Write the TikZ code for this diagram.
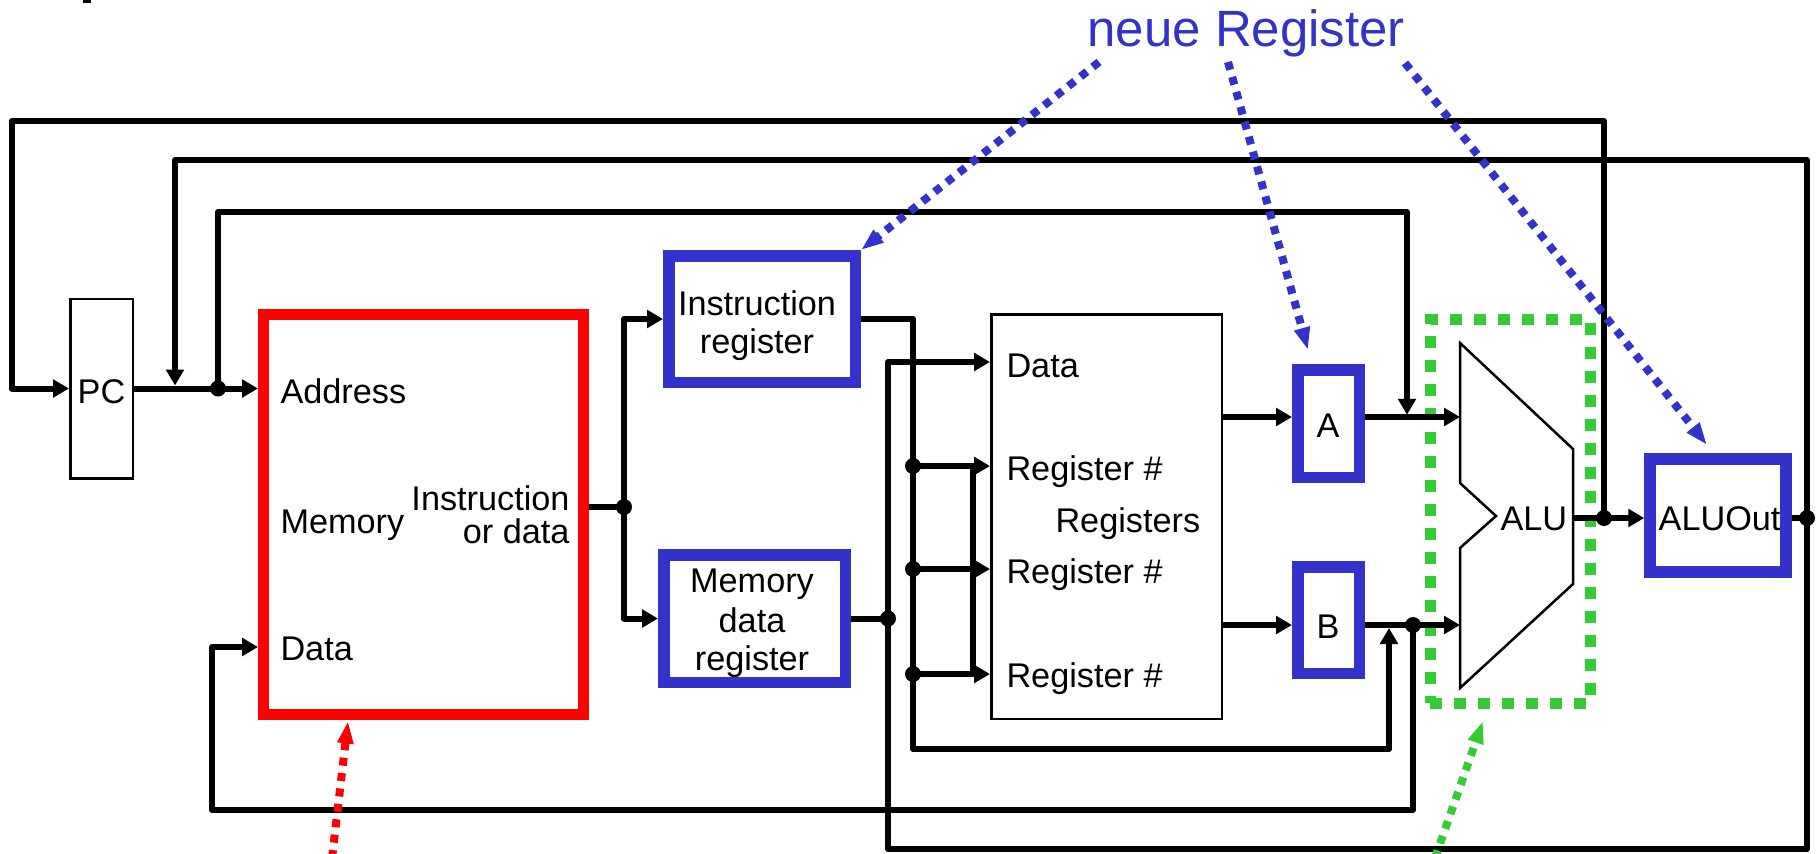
\documentclass[tikz,border=0pt]{standalone}
\usepackage{fontspec}
\setmainfont{Liberation Sans}
\usetikzlibrary{arrows.meta,fit}
\definecolor{regblue}{RGB}{51,51,204}
\definecolor{memred}{RGB}{255,0,0}
\definecolor{alugreen}{RGB}{51,204,51}

\begin{document}
\begin{tikzpicture}[x=0.4pt,y=-0.4pt,
  wire/.style={line width=2.4pt, line join=round},
  arr/.style={-{Triangle[length=6.4pt,width=7pt]}},
  jdot/.style={circle, fill, inner sep=0pt, minimum size=6.4pt},
  thinbox/.style={draw, line width=1pt, inner sep=0pt},
  regbox/.style={draw=regblue, line width=4.6pt, inner sep=0pt},
  membox/.style={draw=memred, line width=4.4pt, inner sep=0pt},
  groupbox/.style={draw=alugreen, line width=4.4pt, inner sep=0pt, dash pattern=on 4.8pt off 4.8pt},
  lbl/.style={font=\fontsize{13.7}{16}\selectfont, inner sep=0pt},
  hint/.style={line width=3.2pt, dash pattern=on 3.2pt off 3pt,
    -{Triangle[length=9pt,width=6pt]}},
]
\useasboundingbox (0,0) rectangle (1818,853);

% small mark at the top edge
\fill (83,0) rectangle (91,2.5);

% ---------- boxes ----------
\node[thinbox, fit={(70.25,298.75)(132.75,478.25)}] (pc) {};
\node[membox, fit={(263.5,314.5)(583.5,714.5)}] (mem) {};
\node[regbox, fit={(668.75,255.75)(855.25,382.25)}] (ir) {};
\node[regbox, fit={(663.75,554.75)(845.25,682.25)}] (mdr) {};
\node[thinbox, fit={(991.25,314.25)(1221.75,718.75)}] (regs) {};
\node[regbox, fit={(1297.75,369.75)(1359.25,477.25)}] (A) {};
\node[regbox, fit={(1297.75,566.75)(1359.25,673.25)}] (B) {};
\node[regbox, fit={(1650,459)(1786,572)}] (aluout) {};
\node[groupbox, fit={(1430,319.5)(1590,703)}] (alugroup) {};

% ALU outline
\draw[line width=1pt, line join=miter]
  (1460,343) -- (1573,449) -- (1573,584) -- (1460,688) -- (1460,548)
  -- (1496,516) -- (1460,483) -- cycle;
\coordinate (aluA) at (1460,417);
\coordinate (aluB) at (1460,625);
\coordinate (aluY) at (1573,518);

% ---------- junctions and corners ----------
\coordinate (jAddr) at (218,388.5);
\coordinate (jMem) at (624,507);
\coordinate (jMdr) at (888,618.5);
\coordinate (jR1) at (913,466);
\coordinate (jR2) at (913,569);
\coordinate (jR3) at (913,674);
\coordinate (jB) at (1413,625);
\coordinate (jAlu) at (1604,518);
\coordinate (jOut) at (1807,518);
\coordinate (top1) at (11.5,121);
\coordinate (top2) at (1807,160);
\coordinate (pcTap) at (175,388.5);
\coordinate (top3) at (1407,212);
\coordinate (busLow) at (888,849);
\coordinate (rData) at (990,362);
\coordinate (busIR) at (913,749);
\coordinate (bTap) at (1389,625);
\coordinate (regJoin) at (973,466);
\coordinate (loopL) at (212,810);
\coordinate (memDataIn) at (258,647);

% ---------- wires ----------
% ALU result back to PC
\draw[wire,arr] (jAlu) |- (top1) |- (pc.west);
% ALUOut to the address line
\draw[wire,arr,shorten >=1.2pt] (jOut) |- (top2) -| (pcTap);
% ALUOut / MDR to register write data
\draw[wire,arr] (jOut) |- (busLow) -- (busLow |- rData) -- (rData);
% PC to memory address
\draw[wire,arr] (pc.east) -- (pc.east -| mem.west);
% PC to ALU input A
\draw[wire,arr,shorten >=0.9pt] (jAddr) |- (top3) -- (top3 |- aluA);
% memory output to IR and MDR
\draw[wire] (jMem -| mem.east) -- (jMem);
\draw[wire,arr] (jMem) |- (ir.west);
\draw[wire,arr] (jMem) |- (mdr.west);
% MDR output
\draw[wire] (mdr.east) -- (jMdr);
% IR fields
\draw[wire,arr,shorten >=1.2pt] (ir.east) -| (busIR) -| (bTap);
\draw[wire,arr] (jR1) -- (jR1 -| regs.west);
\draw[wire,arr] (jR2) -- (jR2 -| regs.west);
\draw[wire,arr] (jR3) -- (jR3 -| regs.west);
\draw[wire] (regJoin) -- (regJoin |- jR3);
% register file to A and B
\draw[wire,arr] (aluA -| regs.east) -- (aluA -| A.west);
\draw[wire,arr] (aluB -| regs.east) -- (aluB -| B.west);
% A and B to the ALU
\draw[wire,arr] (aluA -| A.east) -- (aluA);
\draw[wire,arr] (aluB -| B.east) -- (aluB);
% B to memory write data
\draw[wire,arr] (jB) |- (loopL) |- (memDataIn);
% ALU to ALUOut
\draw[wire,arr] (aluY) -- (aluY -| aluout.west);
\draw[wire] (aluout.east |- jOut) -- (jOut);

% junction dots
\foreach \j in {jAddr,jMem,jMdr,jR1,jR2,jR3,jB,jAlu,jOut}
  \node[jdot] at (\j) {};

% ---------- labels ----------
\node[lbl, anchor=base] (tPC) at (101.5,403) {PC};
\node[lbl, anchor=base west] (tAddr) at (280,403) {Address};
\node[lbl, anchor=base west] (tMem) at (280,533) {Memory};
\node[lbl, anchor=base east] (tIod1) at (570,510) {Instruction};
\node[lbl, anchor=base east] (tIod2) at (570,543) {or data};
\node[lbl, anchor=base west] (tMdata) at (280,660) {Data};
\node[lbl, anchor=base] (tIR1) at (757,315) {Instruction};
\node[lbl, anchor=base] (tIR2) at (757,353) {register};
\node[lbl, anchor=base] (tMDR1) at (752,592) {Memory};
\node[lbl, anchor=base] (tMDR2) at (752,632) {data};
\node[lbl, anchor=base] (tMDR3) at (752,670) {register};
\node[lbl, anchor=base west] (tRData) at (1006,377) {Data};
\node[lbl, anchor=base west] (tR1) at (1006,480) {Register \#};
\node[lbl, anchor=base west] (tR2) at (1006,583) {Register \#};
\node[lbl, anchor=base west] (tR3) at (1006,687) {Register \#};
\node[lbl, anchor=base west] (tRegs) at (1055,532) {Registers};
\node[lbl, anchor=base] (tA) at (1328,437) {A};
\node[lbl, anchor=base] (tB) at (1328,638) {B};
\node[lbl, anchor=base west] (tALU) at (1500,530) {ALU};
\node[lbl, anchor=base east] (tOut) at (1781,530) {ALUOut};
\node[font=\fontsize{20.4}{24}\selectfont, text=regblue, inner sep=0pt, anchor=base west]
  (neu) at (1087,46) {neue Register};

% ---------- pointer arrows ----------
\coordinate (n1) at (1099,62);
\coordinate (n2) at (1228,62);
\coordinate (n3) at (1405,63);
\coordinate (tipA) at (1308,350);
\coordinate (tipOut) at (1707,445);
\draw[hint, regblue] (n1) -- (ir.north east);
\draw[hint, regblue] (n2) -- (tipA);
\draw[hint, regblue] (n3) -- (tipOut);

\coordinate (memTail) at (332,858);
\coordinate (memTip) at (348,721);
\draw[hint, memred] (memTail) -- (memTip);

\coordinate (aluTail) at (1435,858);
\coordinate (aluTip) at (1483,721);
\draw[hint, alugreen] (aluTail) -- (aluTip);
\end{tikzpicture}
\end{document}
